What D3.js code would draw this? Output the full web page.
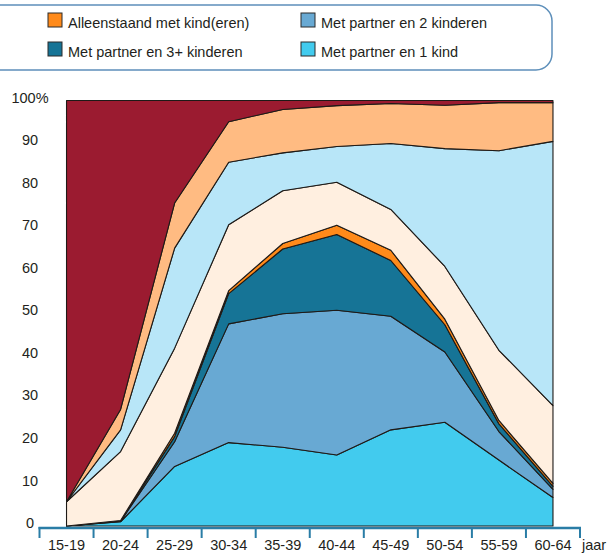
<!DOCTYPE html>
<html>
<head>
<meta charset="utf-8">
<script src="https://cdn.jsdelivr.net/npm/d3@7"></script>
<style>
body { margin: 0; background: #fff; }
text { font-family: "Liberation Sans", Arial, Helvetica, sans-serif; fill: #231f20; }
</style>
</head>
<body>
<div id="chart"></div>
<script>
// leeftijdsklassen
let ageGroups = ["15-19", "20-24", "25-29", "30-34", "35-39", "40-44", "45-49", "50-54", "55-59", "60-64"];
// aandeel in procenten, van onder naar boven gestapeld
let partner1Kind = [0, 1.0, 14.0, 19.6, 18.5, 16.7, 22.6, 24.4, 15.5, 6.7];
let partner2Kinderen = [0, 0.1, 5.8, 27.9, 31.4, 34.0, 26.7, 16.5, 6.7, 1.9];
let partner3Kinderen = [0, 0.1, 1.2, 7.1, 15.2, 17.8, 13.1, 6.4, 1.8, 0.7];
let alleenMetKind = [0, 0.1, 0.8, 0.7, 1.3, 2.2, 2.4, 1.3, 0.8, 0.7];
let alleenstaand = [5.7, 16.2, 20.0, 15.5, 12.4, 10.1, 9.6, 12.4, 16.5, 18.3];
let partnerZonderKind = [0, 5.1, 23.5, 14.7, 8.9, 8.4, 15.5, 27.7, 46.9, 62.1];
let overig = [0, 4.8, 10.6, 9.5, 10.2, 9.6, 9.4, 10.2, 11.3, 9.1];
let bijOuders = [94.3, 72.6, 24.1, 5.0, 2.1, 1.2, 0.7, 1.1, 0.5, 0.5];
let yTicks = [0, 10, 20, 30, 40, 50, 60, 70, 80, 90, 100];

let series = [
    { key: "Met partner en 1 kind", values: partner1Kind, color: "#42cbee" },
    { key: "Met partner en 2 kinderen", values: partner2Kinderen, color: "#68a9d3" },
    { key: "Met partner en 3+ kinderen", values: partner3Kinderen, color: "#167496" },
    { key: "Alleenstaand met kind(eren)", values: alleenMetKind, color: "#ff8a1a" },
    { key: "Alleenstaand", values: alleenstaand, color: "#ffefe0" },
    { key: "Met partner zonder kinderen", values: partnerZonderKind, color: "#b8e6f8" },
    { key: "Overig", values: overig, color: "#ffbb82" },
    { key: "Bij ouders", values: bijOuders, color: "#9b1b30" }
];
let legendItems = [
    { key: "Alleenstaand met kind(eren)", col: 0, row: 0 },
    { key: "Met partner en 3+ kinderen", col: 0, row: 1 },
    { key: "Met partner en 2 kinderen", col: 1, row: 0 },
    { key: "Met partner en 1 kind", col: 1, row: 1 }
];

let width = 607;
let height = 554;
let color = {};
series.forEach(s => color[s.key] = s.color);

let table = ageGroups.map((a, i) => {
    let row = { age: a };
    series.forEach(s => row[s.key] = s.values[i]);
    return row;
});

let svg = d3.select("#chart")
    .append("svg")
    .attr("width", width)
    .attr("height", height);

// legenda, linkerkant valt buiten beeld
let legend = svg.append("g").attr("class", "legend");
legend.append("rect")
    .attr("x", -20)
    .attr("y", 5)
    .attr("width", 572)
    .attr("height", 65)
    .attr("rx", 16)
    .style("fill", "none")
    .style("stroke", "#5d8fba")
    .style("stroke-width", 1.5);
let li = legend.selectAll("g.item")
    .data(legendItems)
    .enter()
    .append("g")
    .attr("class", "item")
    .attr("transform", d => "translate(" + (48 + d.col * 253) + "," + (13 + d.row * 29) + ")");
li.append("rect")
    .attr("width", 14)
    .attr("height", 14)
    .style("fill", d => color[d.key])
    .style("stroke", "#2b2b2b")
    .style("stroke-width", 1);
li.append("text")
    .attr("x", 20)
    .attr("y", 15)
    .style("font-size", "14.5px")
    .text(d => d.key);

let x = d3.scaleBand()
    .domain(ageGroups)
    .range([39.5, 580]);
let xp = d => x(d) + x.bandwidth() / 2;
let y = d3.scaleLinear()
    .domain([0, 100])
    .range([526, 100.5]);

let stack = d3.stack().keys(series.map(s => s.key));
let layers = stack(table);

let area = d3.area()
    .x(d => xp(d.data.age))
    .y0(d => y(d[0]))
    .y1(d => y(d[1]));

svg.append("g")
    .attr("class", "layers")
    .selectAll("path")
    .data(layers)
    .enter()
    .append("path")
    .attr("d", area)
    .style("fill", d => color[d.key])
    .style("stroke", "#1e1a17")
    .style("stroke-width", 1.1)
    .style("stroke-linejoin", "round");

// y-as: alleen labels
let yAxis = svg.append("g")
    .attr("class", "yaxis")
    .attr("transform", "translate(30,-3)")
    .call(d3.axisLeft(y).tickValues(yTicks).tickSize(0).tickPadding(0)
        .tickFormat(d => d === 100 ? "100%" : d));
yAxis.select(".domain").remove();
yAxis.selectAll("text")
    .attr("x", 0)
    .style("text-anchor", "middle")
    .style("font-size", "14.5px")
    .style("font-family", "'Liberation Sans', Arial, sans-serif")
    .style("fill", "#231f20");

// x-as met streepjes op de klassegrenzen
let xAxis = svg.append("g").attr("class", "xaxis");
xAxis.append("line")
    .attr("x1", x.range()[0] - 1)
    .attr("x2", x.range()[1] + 1)
    .attr("y1", 528)
    .attr("y2", 528)
    .style("stroke", "#2a7da6")
    .style("stroke-width", 2.5);
xAxis.selectAll("line.tick")
    .data(ageGroups.map(d => x(d)).concat([x.range()[1]]))
    .enter()
    .append("line")
    .attr("class", "tick")
    .attr("x1", d => d)
    .attr("x2", d => d)
    .attr("y1", 527)
    .attr("y2", 538)
    .style("stroke", "#2a7da6")
    .style("stroke-width", 2);
xAxis.selectAll("text.label")
    .data(ageGroups)
    .enter()
    .append("text")
    .attr("class", "label")
    .attr("x", d => xp(d))
    .attr("y", 550)
    .style("text-anchor", "middle")
    .style("font-size", "14.5px")
    .text(d => d);
xAxis.append("text")
    .attr("x", 582)
    .attr("y", 550)
    .style("font-size", "14.5px")
    .text("jaar");
</script>
</body>
</html>
